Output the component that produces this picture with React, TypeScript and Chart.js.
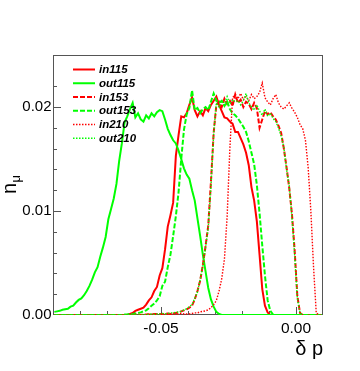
import { useEffect, useRef } from "react";
import { Chart, registerables } from "chart.js";

Chart.register(...registerables);

// Histogram binning: 100 bins of width 0.001 covering [-0.09, 0.01]; values at bin centres
const binStart = -0.0895;
const binWidth = 0.001;

const seriesNames = ["in115", "out115", "in153", "out153", "in210", "out210"];

// Values in units of 1e-3 (one value per bin, 100 bins)
const in115 = [
  0, 0, 0, 0, 0, 0, 0, 0, 0, 0,
  0, 0, 0, 0, 0, 0, 0, 0, 0, 0,
  0, 0, 0, 0, 0, 0, 0, 0, 0.1, 0.2,
  0.4, 0.5, 0.6, 0.7, 1.0, 1.4, 1.7, 2.3, 2.7, 3.8,
  4.5, 6.3, 8.5, 9.6, 10.8, 15.3, 17.3, 19.1, 19.0, 19.4,
  20.2, 20.9, 19.7, 19.1, 19.6, 19.2, 19.9, 19.6, 20.2, 20.6,
  21.0, 20.2, 19.6, 19.0, 18.9, 18.6, 18.4, 17.6, 17.6, 17.0,
  16.4, 15.6, 14.4, 12.3, 11.0, 9.0, 5.8, 2.5, 0.9, 0.25,
  0, 0, 0, 0, 0, 0, 0, 0, 0, 0,
  0, 0, 0, 0, 0, 0, 0, 0, 0, 0,
];
const out115 = [
  0.3, 0.35, 0.4, 0.5, 0.55, 0.6, 0.8, 0.9, 1.2, 1.45,
  1.6, 1.9, 2.3, 2.8, 3.4, 4.1, 4.6, 5.6, 6.5, 7.5,
  9.2, 10.2, 11.2, 12.6, 14.8, 16.5, 18.5, 19.1, 19.8, 20.4,
  19.0, 19.4, 18.8, 18.6, 19.2, 18.9, 19.4, 19.1, 19.5, 19.7,
  19.6, 18.8, 17.9, 17.3, 16.8, 16.5, 15.8, 15.0, 14.1, 13.5,
  13.1, 12.0, 11.0, 9.3, 7.6, 5.8, 4.2, 2.6, 1.5, 0.8,
  0.3, 0.1, 0, 0, 0, 0, 0, 0, 0, 0,
  0, 0, 0, 0, 0, 0, 0, 0, 0, 0,
  0, 0, 0, 0, 0, 0, 0, 0, 0, 0,
  0, 0, 0, 0, 0, 0, 0, 0, 0, 0,
];
const in153 = [
  0, 0, 0, 0, 0, 0, 0, 0, 0, 0,
  0, 0, 0, 0, 0, 0, 0, 0, 0, 0,
  0, 0, 0, 0, 0, 0, 0, 0, 0, 0,
  0, 0, 0, 0, 0.05, 0.05, 0.05, 0.1, 0.1, 0.1,
  0.1, 0.1, 0.15, 0.1, 0.15, 0.2, 0.25, 0.35, 0.45, 0.55,
  0.7, 0.9, 1.5, 2.3, 3.3, 4.8, 6.6, 8.6, 12.8, 17.5,
  20.2, 20.5, 20.0, 20.8, 20.3, 20.6, 20.1, 21.2, 20.4, 20.7,
  20.0, 20.5, 20.3, 19.8, 20.4, 19.9, 18.0, 18.8, 19.6, 19.3,
  19.5, 19.1, 18.8, 18.2, 17.5, 16.0, 14.2, 12.2, 9.7, 6.2,
  1.8, 0.2, 0, 0, 0, 0, 0, 0, 0, 0,
];
const out153 = [
  0, 0, 0, 0, 0, 0, 0, 0, 0, 0,
  0, 0, 0, 0, 0, 0, 0, 0, 0, 0,
  0, 0, 0, 0, 0, 0, 0.05, 0.05, 0.1, 0.1,
  0.15, 0.2, 0.25, 0.35, 0.45, 0.65, 0.9, 1.1, 1.4, 1.8,
  2.8, 3.2, 4.6, 5.8, 7.6, 9.5, 11.8, 15.0, 17.8, 19.3,
  19.9, 21.6, 19.7, 19.9, 19.4, 19.8, 20.0, 19.7, 20.5, 21.3,
  20.6, 20.4, 20.6, 20.1, 20.5, 19.8, 19.4, 19.2, 18.9, 18.5,
  18.1, 17.6, 16.7, 15.6, 14.5, 12.5, 9.8, 6.7, 3.8, 1.4,
  0.4, 0.05, 0, 0, 0, 0, 0, 0, 0, 0,
  0, 0, 0, 0, 0, 0, 0, 0, 0, 0,
];
const in210 = [
  0, 0, 0, 0, 0, 0, 0, 0, 0, 0,
  0, 0, 0, 0, 0, 0, 0, 0, 0, 0,
  0, 0, 0, 0, 0, 0, 0, 0, 0, 0.05,
  0.05, 0.05, 0.05, 0.05, 0.05, 0.1, 0.05, 0.05, 0.1, 0.05,
  0.1, 0.05, 0.1, 0.1, 0.1, 0.1, 0.1, 0.15, 0.1, 0.1,
  0.1, 0.15, 0.2, 0.2, 0.3, 0.35, 0.4, 0.5, 0.7, 1.0,
  1.4, 2.3, 3.5, 5.4, 9.5, 16.0, 20.9, 21.2, 20.8, 21.3,
  20.7, 21.0, 20.6, 21.2, 20.8, 21.0, 21.4, 22.3, 20.9, 20.5,
  20.2, 20.8, 21.2, 20.4, 20.0, 19.8, 20.1, 20.4, 19.9, 19.5,
  19.0, 18.3, 17.9, 16.8, 14.2, 10.0, 4.6, 0.2, 0, 0,
];
const out210 = [
  0, 0, 0, 0, 0, 0, 0, 0, 0, 0,
  0, 0, 0, 0, 0, 0, 0, 0, 0, 0,
  0, 0, 0, 0, 0, 0, 0, 0, 0, 0,
  0, 0, 0, 0, 0.05, 0.05, 0.1, 0.05, 0.1, 0.1,
  0.15, 0.1, 0.15, 0.2, 0.2, 0.25, 0.3, 0.35, 0.5, 0.6,
  0.8, 1.0, 1.6, 2.2, 3.4, 4.7, 6.5, 8.4, 12.4, 17.4,
  20.4, 20.0, 20.6, 20.2, 21.0, 20.3, 20.7, 20.5, 20.6, 20.2,
  20.6, 21.3, 20.4, 20.0, 19.7, 20.2, 19.6, 19.2, 19.8, 19.1,
  19.4, 18.9, 18.6, 18.0, 17.2, 16.1, 14.0, 12.4, 9.4, 5.8,
  1.6, 0.2, 0, 0, 0, 0, 0, 0, 0, 0,
];

const seriesValues = [in115, out115, in153, out153, in210, out210];
const seriesColors = ["#ff0000", "#00ff00", "#ff0000", "#00ff00", "#ff0000", "#00ff00"];
const seriesDash = [[], [], [5, 2], [5, 2], [1.5, 1.5], [1.5, 1.5]];
const seriesWidth = [2, 2, 2, 2, 1.4, 1.4];

const xMin = -0.09;
const xMax = 0.01;
const xStep = 0.01;
const xMajor = 0.05;
const yMin = 0;
const yMax = 0.025;
const yStep = 0.002;
const yMajor = 0.01;

const FONT = '"Liberation Sans", Arial, Helvetica, sans-serif';

const isMajor = (v: number, m: number) => Math.abs(v / m - Math.round(v / m)) < 1e-6;

const framePlugin = {
  id: "rootFrame",
  beforeDatasetsDraw(chart: any) {
    const ctx = chart.ctx;
    const { left, right, top, bottom } = chart.chartArea;
    const xs = chart.scales.x;
    const ys = chart.scales.y;
    ctx.save();
    ctx.strokeStyle = "#555";
    ctx.lineWidth = 1;
    ctx.strokeRect(left + 0.5, top + 0.5, right - left - 1, bottom - top - 1);
    ctx.beginPath();
    xs.ticks.forEach((t: any) => {
      const px = Math.round(xs.getPixelForValue(t.value)) + 0.5;
      if (px <= left + 1 || px >= right - 1) return;
      const len = isMajor(t.value, xMajor) ? 8 : 4;
      ctx.moveTo(px, bottom);
      ctx.lineTo(px, bottom - len);
    });
    ys.ticks.forEach((t: any) => {
      const py = Math.round(ys.getPixelForValue(t.value)) + 0.5;
      if (py <= top + 1 || py >= bottom - 1) return;
      const len = isMajor(t.value, yMajor) ? 8 : 4;
      ctx.moveTo(left, py);
      ctx.lineTo(left + len, py);
    });
    ctx.stroke();
    ctx.restore();
  },
  afterDraw(chart: any) {
    const ctx = chart.ctx;
    const { right } = chart.chartArea;
    ctx.save();
    ctx.fillStyle = "#000";
    // x title
    ctx.font = `20px ${FONT}`;
    ctx.textAlign = "right";
    ctx.textBaseline = "alphabetic";
    ctx.fillText("δ p", right, 355);
    // y title (rotated)
    ctx.translate(16, 194);
    ctx.rotate(-Math.PI / 2);
    ctx.textAlign = "left";
    ctx.font = `20px ${FONT}`;
    ctx.fillText("n", 0, 0);
    const w = ctx.measureText("n").width;
    ctx.font = `13px ${FONT}`;
    ctx.fillText("μ", w + 0.5, 3.5);
    ctx.restore();
  },
};

const legendPlugin = {
  id: "rootLegend",
  afterDatasetsDraw(chart: any) {
    const ctx = chart.ctx;
    chart.data.datasets.forEach((ds: any, i: number) => {
      const y = 69.5 + i * 13.75;
      ctx.save();
      ctx.strokeStyle = ds.borderColor;
      ctx.lineWidth = ds.borderWidth;
      ctx.setLineDash(ds.borderDash || []);
      ctx.beginPath();
      ctx.moveTo(73, y);
      ctx.lineTo(95, y);
      ctx.stroke();
      ctx.setLineDash([]);
      ctx.fillStyle = "#000";
      ctx.font = `italic bold 11.5px ${FONT}`;
      ctx.textAlign = "left";
      ctx.textBaseline = "middle";
      ctx.fillText(ds.label, 99, y + 0.5);
      ctx.restore();
    });
  },
};

export default function App() {
  const ref = useRef<HTMLCanvasElement | null>(null);

  useEffect(() => {
    document.body.style.margin = "0";
    const canvas = ref.current;
    if (!canvas) return;
    const datasets = seriesNames.map((name, i) => ({
      label: name,
      data: seriesValues[i].map((v, k) => ({ x: binStart + k * binWidth, y: v / 1000 })),
      borderColor: seriesColors[i],
      backgroundColor: seriesColors[i],
      borderWidth: seriesWidth[i],
      borderDash: seriesDash[i],
      pointRadius: 0,
      tension: 0,
      fill: false,
      order: seriesNames.length - i,
    }));
    const chart = new Chart(canvas, {
      type: "line",
      data: { datasets },
      options: {
        animation: false,
        responsive: false,
        devicePixelRatio: 1,
        layout: { padding: { top: 55, right: 37, left: 0, bottom: 0 } },
        plugins: { legend: { display: false }, tooltip: { enabled: false } },
        scales: {
          x: {
            type: "linear",
            min: xMin,
            max: xMax,
            grid: { display: false, drawTicks: false },
            border: { display: false },
            afterFit: (s: any) => {
              s.height = 56;
            },
            ticks: {
              stepSize: xStep,
              autoSkip: false,
              maxRotation: 0,
              minRotation: 0,
              padding: 4,
              color: "#000",
              font: { family: FONT, size: 15.5 },
              callback: (v: any) => {
                const n = Number(v);
                return isMajor(n, xMajor) ? (Math.round(n * 100) / 100).toFixed(2) : "";
              },
            },
          },
          y: {
            type: "linear",
            min: yMin,
            max: yMax,
            grid: { display: false, drawTicks: false },
            border: { display: false },
            afterFit: (s: any) => {
              s.width = 53;
            },
            ticks: {
              stepSize: yStep,
              autoSkip: false,
              padding: 1.5,
              color: "#000",
              font: { family: FONT, size: 15 },
              callback: (v: any) => {
                const n = Number(v);
                return isMajor(n, yMajor) ? (Math.round(n * 100) / 100).toFixed(2) : "";
              },
            },
          },
        },
      },
      plugins: [framePlugin, legendPlugin],
    } as any);
    return () => chart.destroy();
  }, []);

  return (
    <div style={{ width: 360, height: 371 }}>
      <canvas ref={ref} width={360} height={371} style={{ display: "block" }} />
    </div>
  );
}
